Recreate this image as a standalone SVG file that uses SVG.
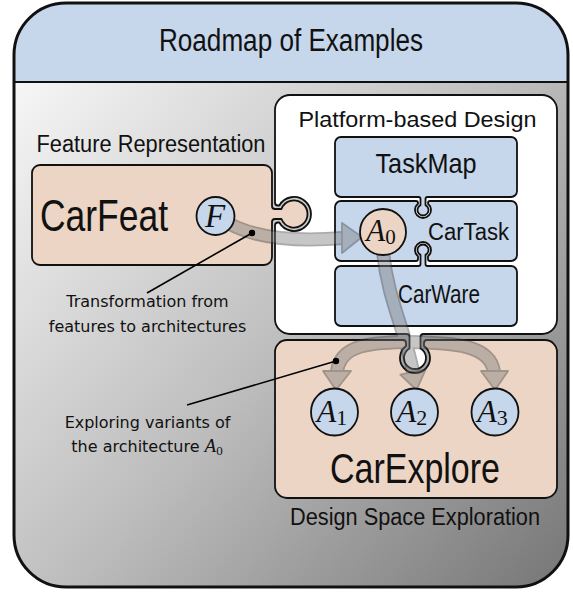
<svg xmlns="http://www.w3.org/2000/svg" width="573" height="592" viewBox="0 0 573 592">
<defs>
<linearGradient id="bg" x1="14" y1="82" x2="568" y2="587" gradientUnits="userSpaceOnUse">
<stop offset="0" stop-color="#f6f6f6"/>
<stop offset="0.5" stop-color="#bdbdbd"/>
<stop offset="1" stop-color="#767676"/>
</linearGradient>
<style>
.box{stroke:#111;stroke-width:1.8;stroke-linejoin:round}
.peach{fill:#ecd5c4}
.blue{fill:#c6d6eb}
.lbl{font-family:"Liberation Sans",Arial,sans-serif;fill:#111}
.note{font-family:"DejaVu Sans",sans-serif;font-size:16px;fill:#111;text-anchor:middle}
.math{font-family:"Liberation Serif","Times New Roman",serif;font-style:italic;fill:#111}
.sub{font-style:normal}
.band{fill:none;stroke-linecap:butt}
.leader{stroke:#000;stroke-width:1.6;fill:none}
</style>
</defs>

<g id="frame">
<rect x="14" y="3" width="554" height="584" rx="52" fill="url(#bg)"/>
<path d="M14 82 V55 A52 52 0 0 1 66 3 H516 A52 52 0 0 1 568 55 V82 Z" fill="#c6d6eb"/>
<line x1="14" y1="82" x2="568" y2="82" stroke="#111" stroke-width="2"/>
<rect x="14" y="3" width="554" height="584" rx="52" fill="none" stroke="#111" stroke-width="3"/>
<text class="lbl" x="291" y="51" font-size="31" text-anchor="middle" textLength="264" lengthAdjust="spacingAndGlyphs">Roadmap of Examples</text>
</g>

<g id="platform">
<path class="box" fill="#fff" d="M290 95 H542 A15 15 0 0 1 557 110 V319 A15 15 0 0 1 542 334 H423.5 A3 3 0 0 0 420.5 337 V348.47 A11 11 0 1 1 409.5 348.47 V337 A3 3 0 0 0 406.5 334 H290 A15 15 0 0 1 275 319 V225.5 A3 3 0 0 1 278 222.5 H279.28 A17 17 0 1 0 279.28 205.5 H278 A3 3 0 0 1 275 202.5 V110 A15 15 0 0 1 290 95 Z"/>
<text class="lbl" x="417.5" y="127" font-size="22.5" text-anchor="middle" textLength="238" lengthAdjust="spacingAndGlyphs">Platform-based Design</text>
</g>

<g id="carfeat">
<path class="box peach" d="M40 165 H264 A8 8 0 0 1 272 173 V206 A3 3 0 0 0 275 209 H281.46 A13.5 13.5 0 1 1 281.46 219 H275 A3 3 0 0 0 272 222 V257 A8 8 0 0 1 264 265 H40 A8 8 0 0 1 32 257 V173 A8 8 0 0 1 40 165 Z"/>
<text class="lbl" x="40" y="231" font-size="44" textLength="128" lengthAdjust="spacingAndGlyphs">CarFeat</text>
<text class="lbl" x="151" y="152" font-size="23" text-anchor="middle" textLength="229" lengthAdjust="spacingAndGlyphs">Feature Representation</text>
</g>

<g id="carexplore">
<path class="box peach" d="M287 340 H403 A3 3 0 0 1 406 343 V346 A15 15 0 1 0 424 346 V343 A3 3 0 0 1 427 340 H545 A12 12 0 0 1 557 352 V486 A12 12 0 0 1 545 498 H287 A12 12 0 0 1 275 486 V352 A12 12 0 0 1 287 340 Z"/>
<text class="lbl" x="330" y="483" font-size="42" textLength="170" lengthAdjust="spacingAndGlyphs">CarExplore</text>
<text class="lbl" x="290" y="525" font-size="23.5" textLength="250" lengthAdjust="spacingAndGlyphs">Design Space Exploration</text>
</g>

<g id="taskmap">
<path class="box blue" d="M341 137 H511 A6 6 0 0 1 517 143 V191 A6 6 0 0 1 511 197 H427.5 A2 2 0 0 0 425.5 199 V205.1 A5.5 5.5 0 1 1 420.5 205.1 V199 A2 2 0 0 0 418.5 197 H341 A6 6 0 0 1 335 191 V143 A6 6 0 0 1 341 137 Z"/>
<text class="lbl" x="426" y="173" font-size="28" text-anchor="middle" textLength="101" lengthAdjust="spacingAndGlyphs">TaskMap</text>
</g>

<g id="cartask">
<path class="box blue" d="M341 201 H416 A2 2 0 0 1 418 203 V203.76 A8 8 0 1 0 428 203.76 V203 A2 2 0 0 1 430 201 H511 A6 6 0 0 1 517 207 V255 A6 6 0 0 1 511 261 H430 A2 2 0 0 1 428 259 V256.24 A8 8 0 1 0 418 256.24 V259 A2 2 0 0 1 416 261 H341 A6 6 0 0 1 335 255 V207 A6 6 0 0 1 341 201 Z"/>
<text class="lbl" x="428" y="240" font-size="23.5" textLength="81" lengthAdjust="spacingAndGlyphs">CarTask</text>
</g>

<g id="carware">
<path class="box blue" d="M341 266 H418.5 A2 2 0 0 0 420.5 264 V254.9 A5.5 5.5 0 1 1 425.5 254.9 V264 A2 2 0 0 0 427.5 266 H511 A6 6 0 0 1 517 272 V320 A6 6 0 0 1 511 326 H341 A6 6 0 0 1 335 320 V272 A6 6 0 0 1 341 266 Z"/>
<text class="lbl" x="398" y="303" font-size="25" textLength="82" lengthAdjust="spacingAndGlyphs">CarWare</text>
</g>

<g id="connectors">
<g opacity="0.42">
<g stroke="#3a3a3a" stroke-width="14" class="band">
<path d="M228 223 C255 238 295 242 343 238"/>
<path d="M383 252 C388 300 405 330 413 372"/>
<path d="M405 342 C375 343 340 343 337 372"/>
<path d="M405 342 C450 343 490 343 494 372"/>
</g>
<g stroke="#7a7a7a" stroke-width="10.5" class="band">
<path d="M228 223 C255 238 295 242 343 238"/>
<path d="M383 252 C388 300 405 330 413 372"/>
<path d="M405 342 C375 343 340 343 337 372"/>
<path d="M405 342 C450 343 490 343 494 372"/>
</g>
<g fill="#7a7a7a" stroke="#3a3a3a" stroke-width="1.8" stroke-linejoin="round">
<polygon points="342,223 362,237 342,253"/>
<polygon points="425.7,369.4 416.5,390 400.3,374.6"/>
<polygon points="323,371 351,371 336,390"/>
<polygon points="481,371 508,371 495,390"/>
</g>
</g>
</g>

<g id="node-F">
<circle cx="215.5" cy="216" r="19" fill="#c6d6eb" stroke="#111" stroke-width="1.8"/>
<text class="math" x="215" y="227" font-size="33" text-anchor="middle">F</text>
</g>
<g id="node-A0">
<circle cx="383" cy="232" r="23" fill="#ecd5c4" stroke="#111" stroke-width="1.8"/>
<text class="math" x="381" y="241" font-size="31" text-anchor="middle">A<tspan class="sub" font-size="21" dy="3">0</tspan></text>
</g>
<g id="node-A1">
<circle cx="334.5" cy="412" r="23.5" fill="#c6d6eb" stroke="#111" stroke-width="1.8"/>
<text class="math" x="332" y="422" font-size="32" text-anchor="middle">A<tspan class="sub" font-size="22" dy="3">1</tspan></text>
</g>
<g id="node-A2">
<circle cx="414.5" cy="412" r="23.5" fill="#c6d6eb" stroke="#111" stroke-width="1.8"/>
<text class="math" x="412" y="422" font-size="32" text-anchor="middle">A<tspan class="sub" font-size="22" dy="3">2</tspan></text>
</g>
<g id="node-A3">
<circle cx="495" cy="412" r="23.5" fill="#c6d6eb" stroke="#111" stroke-width="1.8"/>
<text class="math" x="492.5" y="422" font-size="32" text-anchor="middle">A<tspan class="sub" font-size="22" dy="3">3</tspan></text>
</g>

<g id="note-transformation">
<line class="leader" x1="147" y1="293" x2="252" y2="233"/>
<circle cx="252" cy="233" r="3.2" fill="#000"/>
<text class="note" x="147.5" y="307">Transformation from</text>
<text class="note" x="147.5" y="332">features to architectures</text>
</g>

<g id="note-exploring">
<line class="leader" x1="187" y1="405" x2="336" y2="361"/>
<circle cx="336" cy="361" r="3.2" fill="#000"/>
<text class="note" x="147.5" y="428">Exploring variants of</text>
<text class="note" x="147" y="452">the architecture <tspan class="math" font-size="19">A</tspan><tspan font-family="Liberation Serif, serif" font-size="13" dy="3">0</tspan></text>
</g>
</svg>
